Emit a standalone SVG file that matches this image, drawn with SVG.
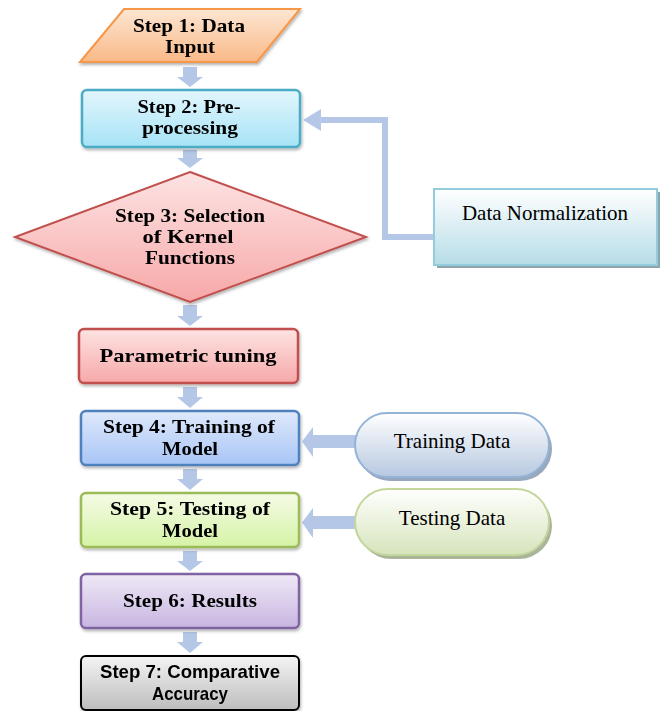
<svg xmlns="http://www.w3.org/2000/svg" width="664" height="711" viewBox="0 0 664 711">
<defs>
<linearGradient id="gOrange" x1="0" y1="0" x2="0" y2="1"><stop offset="0" stop-color="#fde6d3"/><stop offset="1" stop-color="#f9b987"/></linearGradient>
<linearGradient id="gCyan" x1="0" y1="0" x2="0" y2="1"><stop offset="0" stop-color="#e3f6fc"/><stop offset="1" stop-color="#a6e3f7"/></linearGradient>
<linearGradient id="gRed" x1="0" y1="0" x2="0" y2="1"><stop offset="0" stop-color="#fde3e3"/><stop offset="1" stop-color="#f7a8a8"/></linearGradient>
<linearGradient id="gBlue" x1="0" y1="0" x2="0" y2="1"><stop offset="0" stop-color="#dfe9fb"/><stop offset="1" stop-color="#a8c5f6"/></linearGradient>
<linearGradient id="gGreen" x1="0" y1="0" x2="0" y2="1"><stop offset="0" stop-color="#f5fbe6"/><stop offset="1" stop-color="#d5f3a6"/></linearGradient>
<linearGradient id="gPurple" x1="0" y1="0" x2="0" y2="1"><stop offset="0" stop-color="#efe9f6"/><stop offset="1" stop-color="#c8b5e1"/></linearGradient>
<linearGradient id="gGray" x1="0" y1="0" x2="0" y2="1"><stop offset="0" stop-color="#f4f4f4"/><stop offset="1" stop-color="#bdbdbd"/></linearGradient>
<linearGradient id="gNorm" x1="0" y1="0" x2="0" y2="1"><stop offset="0" stop-color="#ffffff"/><stop offset="1" stop-color="#b6dce7"/></linearGradient>
<linearGradient id="gTrain" x1="0" y1="0" x2="0" y2="1"><stop offset="0" stop-color="#ffffff"/><stop offset="1" stop-color="#b7c8e0"/></linearGradient>
<linearGradient id="gTest" x1="0" y1="0" x2="0" y2="1"><stop offset="0" stop-color="#ffffff"/><stop offset="1" stop-color="#d6e4bb"/></linearGradient>
<filter id="sh" x="-10%" y="-10%" width="130%" height="140%"><feDropShadow dx="1" dy="2" stdDeviation="1.5" flood-color="#000" flood-opacity="0.3"/></filter>
</defs>
<style>
.b{font-family:"Liberation Serif","Times New Roman",serif;font-weight:bold;font-size:19px;fill:#000;text-anchor:middle}
.r{font-family:"Liberation Serif","Times New Roman",serif;font-size:21px;fill:#000;text-anchor:middle}
.s{font-family:"Liberation Sans",Arial,sans-serif;font-weight:bold;font-size:18.5px;fill:#000;text-anchor:middle}
.arr{fill:#b4c7e7}
.conn{fill:none;stroke:#b4c7e7;stroke-width:6}
</style>

<g id="connectors">
<path class="arr" d="M183 67H197V77H203L190 87L177 77H183Z"/>
<path class="arr" d="M183 150H197V158H203L190 168L177 158H183Z"/>
<path class="arr" d="M183 305H197V316H203L190 326L177 316H183Z"/>
<path class="arr" d="M183 387H197V397H203L190 408L177 397H183Z"/>
<path class="arr" d="M183 469H197V479H203L190 490L177 479H183Z"/>
<path class="arr" d="M183 551H197V561H203L190 571L177 561H183Z"/>
<path class="arr" d="M183 632H197V642H203L190 653L177 642H183Z"/>
<polyline class="conn" points="434,237 385,237 385,120 318,120"/>
<path class="arr" d="M321 109V131L303 120Z"/>
<path class="arr" d="M356 435V448H313V457L302 441.5L313 427V435Z"/>
<path class="arr" d="M356 516V529H313V538L302 522.5L313 508V516Z"/>
</g>

<g id="step1" filter="url(#sh)">
<polygon points="124,9 300,9 257,62 80,62" fill="url(#gOrange)" stroke="#f79646" stroke-width="2"/>
<text class="b" x="189" y="32" textLength="112" lengthAdjust="spacingAndGlyphs">Step 1: Data</text>
<text class="b" x="190" y="53" textLength="50" lengthAdjust="spacingAndGlyphs">Input</text>
</g>

<g id="step2" filter="url(#sh)">
<rect x="82" y="90" width="218" height="57" rx="5" fill="url(#gCyan)" stroke="#4bacc6" stroke-width="2.5"/>
<text class="b" x="189" y="113" textLength="103" lengthAdjust="spacingAndGlyphs">Step 2: Pre-</text>
<text class="b" x="190" y="134" textLength="96" lengthAdjust="spacingAndGlyphs">processing</text>
</g>

<g id="step3" filter="url(#sh)">
<polygon points="190,172 366,237 190,302 15,237" fill="url(#gRed)" stroke="#c0504d" stroke-width="2"/>
<text class="b" x="190" y="222" textLength="150" lengthAdjust="spacingAndGlyphs">Step 3: Selection</text>
<text class="b" x="188" y="243" textLength="91" lengthAdjust="spacingAndGlyphs">of Kernel</text>
<text class="b" x="190" y="264" textLength="90" lengthAdjust="spacingAndGlyphs">Functions</text>
</g>

<g id="param" filter="url(#sh)">
<rect x="79" y="329" width="219" height="54" rx="5" fill="url(#gRed)" stroke="#c0504d" stroke-width="2.5"/>
<text class="b" x="188" y="362" textLength="177" lengthAdjust="spacingAndGlyphs">Parametric tuning</text>
</g>

<g id="step4" filter="url(#sh)">
<rect x="81" y="411" width="218" height="54" rx="5" fill="url(#gBlue)" stroke="#4f81bd" stroke-width="2.5"/>
<text class="b" x="189" y="433" textLength="172" lengthAdjust="spacingAndGlyphs">Step 4: Training of</text>
<text class="b" x="190" y="455" textLength="56" lengthAdjust="spacingAndGlyphs">Model</text>
</g>

<g id="step5" filter="url(#sh)">
<rect x="81" y="493" width="218" height="54" rx="5" fill="url(#gGreen)" stroke="#9bbb59" stroke-width="2.5"/>
<text class="b" x="190" y="515" textLength="160" lengthAdjust="spacingAndGlyphs">Step 5: Testing of</text>
<text class="b" x="190" y="537" textLength="56" lengthAdjust="spacingAndGlyphs">Model</text>
</g>

<g id="step6" filter="url(#sh)">
<rect x="81" y="574" width="218" height="54" rx="5" fill="url(#gPurple)" stroke="#8064a2" stroke-width="2.5"/>
<text class="b" x="190" y="607" textLength="134" lengthAdjust="spacingAndGlyphs">Step 6: Results</text>
</g>

<g id="step7" filter="url(#sh)">
<rect x="81" y="656" width="218" height="54" rx="5" fill="url(#gGray)" stroke="#000" stroke-width="2"/>
<text class="s" x="190" y="678" textLength="180" lengthAdjust="spacingAndGlyphs">Step 7: Comparative</text>
<text class="s" x="190" y="700" textLength="76" lengthAdjust="spacingAndGlyphs">Accuracy</text>
</g>

<g id="norm">
<rect x="437" y="192" width="223" height="76" fill="#8fa3ab"/>
<rect x="434" y="189" width="223" height="76" fill="url(#gNorm)" stroke="#93cddd" stroke-width="2"/>
<text class="r" x="545" y="220">Data Normalization</text>
</g>

<g id="training">
<rect x="358" y="417" width="194" height="64" rx="32" fill="#98a8bf"/>
<rect x="355" y="413" width="194" height="64" rx="32" fill="url(#gTrain)" stroke="#95b3d7" stroke-width="2"/>
<text class="r" x="452" y="448">Training Data</text>
</g>

<g id="testing">
<rect x="358" y="493" width="194" height="66" rx="33" fill="#aab59a"/>
<rect x="355" y="489" width="194" height="66" rx="33" fill="url(#gTest)" stroke="#c3d69b" stroke-width="2"/>
<text class="r" x="452" y="525">Testing Data</text>
</g>
</svg>
